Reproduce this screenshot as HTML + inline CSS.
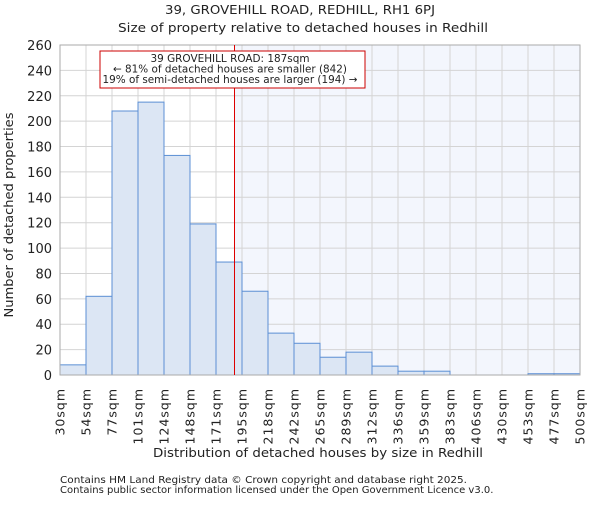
<!DOCTYPE html>
<html><head><meta charset="utf-8"><style>body{margin:0;background:#fff}svg text{font-family:"DejaVu Sans","Liberation Sans",sans-serif;fill:#222}</style></head>
<body>
<svg id="c" width="600" height="500" xmlns="http://www.w3.org/2000/svg">
<text x="300" y="14" font-size="12.5" text-anchor="middle" textLength="270" lengthAdjust="spacingAndGlyphs">39, GROVEHILL ROAD, REDHILL, RH1 6PJ</text>
<text x="303" y="32" font-size="12.5" text-anchor="middle" textLength="370" lengthAdjust="spacingAndGlyphs">Size of property relative to detached houses in Redhill</text>
<g id="plot"></g>
<text x="318" y="457" font-size="12.5" text-anchor="middle" textLength="330" lengthAdjust="spacingAndGlyphs">Distribution of detached houses by size in Redhill</text>
<text transform="translate(13,215) rotate(-90)" font-size="12.5" text-anchor="middle" textLength="205" lengthAdjust="spacingAndGlyphs">Number of detached properties</text>
<text x="60" y="483" font-size="10" textLength="407" lengthAdjust="spacingAndGlyphs" fill="#444">Contains HM Land Registry data © Crown copyright and database right 2025.</text>
<text x="60" y="493" font-size="10" fill="#444">Contains public sector information licensed under the Open Government Licence v3.0.</text>
</svg>
<script>
const binLabels=["30sqm","54sqm","77sqm","101sqm","124sqm","148sqm","171sqm","195sqm","218sqm","242sqm","265sqm","289sqm","312sqm","336sqm","359sqm","383sqm","406sqm","430sqm","453sqm","477sqm","500sqm"];
const counts=[8,62,208,215,173,119,89,66,33,25,14,18,7,3,3,0,0,0,1,1];
const yTicks=[0,20,40,60,80,100,120,140,160,180,200,220,240,260];
const xMin=30,xMax=500,propSize=187;
const L=60,R=580,T=45,B=375,yMax=260;
const NS="http://www.w3.org/2000/svg";
const g=document.getElementById('plot');
const n=counts.length,bw=(R-L)/n;
const xs=v=>L+(v-xMin)/(xMax-xMin)*(R-L);
const ys=v=>B-v/yMax*(B-T);
function mk(t,a){const e=document.createElementNS(NS,t);for(const k in a)e.setAttribute(k,a[k]);g.appendChild(e);return e;}
const px=Math.round(xs(propSize))+0.5;
let e=mk('rect',{x:px,y:T,width:R-px,height:B-T,fill:'#f3f6fd'});


yTicks.forEach(t=>{let l=mk('line',{x1:L,x2:R,y1:ys(t),y2:ys(t),stroke:'#d4d4d4'});


let tx=mk('text',{x:L-8,y:ys(t)+5,'font-size':13,'text-anchor':'end'});tx.textContent=t;

});
binLabels.forEach((s,i)=>{const x=L+i*bw;let l=mk('line',{x1:x,x2:x,y1:T,y2:B,stroke:'#d4d4d4'});


let tx=mk('text',{transform:`translate(${x+4.5},${B+13}) rotate(-90)`,'font-size':12.5,'letter-spacing':'1','text-anchor':'end'});tx.textContent=s;

});
counts.forEach((c,i)=>{if(c<=0)return;let r=mk('rect',{x:L+i*bw,y:ys(c),width:bw,height:B-ys(c),fill:'#dce6f4',stroke:'#5b8fd4','stroke-width':1});

});
let ax=mk('rect',{x:L,y:T,width:R-L,height:B-T,fill:'none',stroke:'#aaa'});


let ml=mk('line',{x1:px,x2:px,y1:T,y2:B,stroke:'#dd0000','stroke-width':1});


let box=mk('rect',{x:100,y:51,width:265,height:37,fill:'#fff',stroke:'#cc0000'});


const annLens=[159,234,255];
["39 GROVEHILL ROAD: 187sqm","← 81% of detached houses are smaller (842)","19% of semi-detached houses are larger (194) →"].forEach((s,i)=>{let t=mk('text',{x:230,y:62+i*10.5,'font-size':10.5,'text-anchor':'middle',textLength:annLens[i],lengthAdjust:'spacingAndGlyphs'});t.textContent=s;

});
</script>
</body></html>
